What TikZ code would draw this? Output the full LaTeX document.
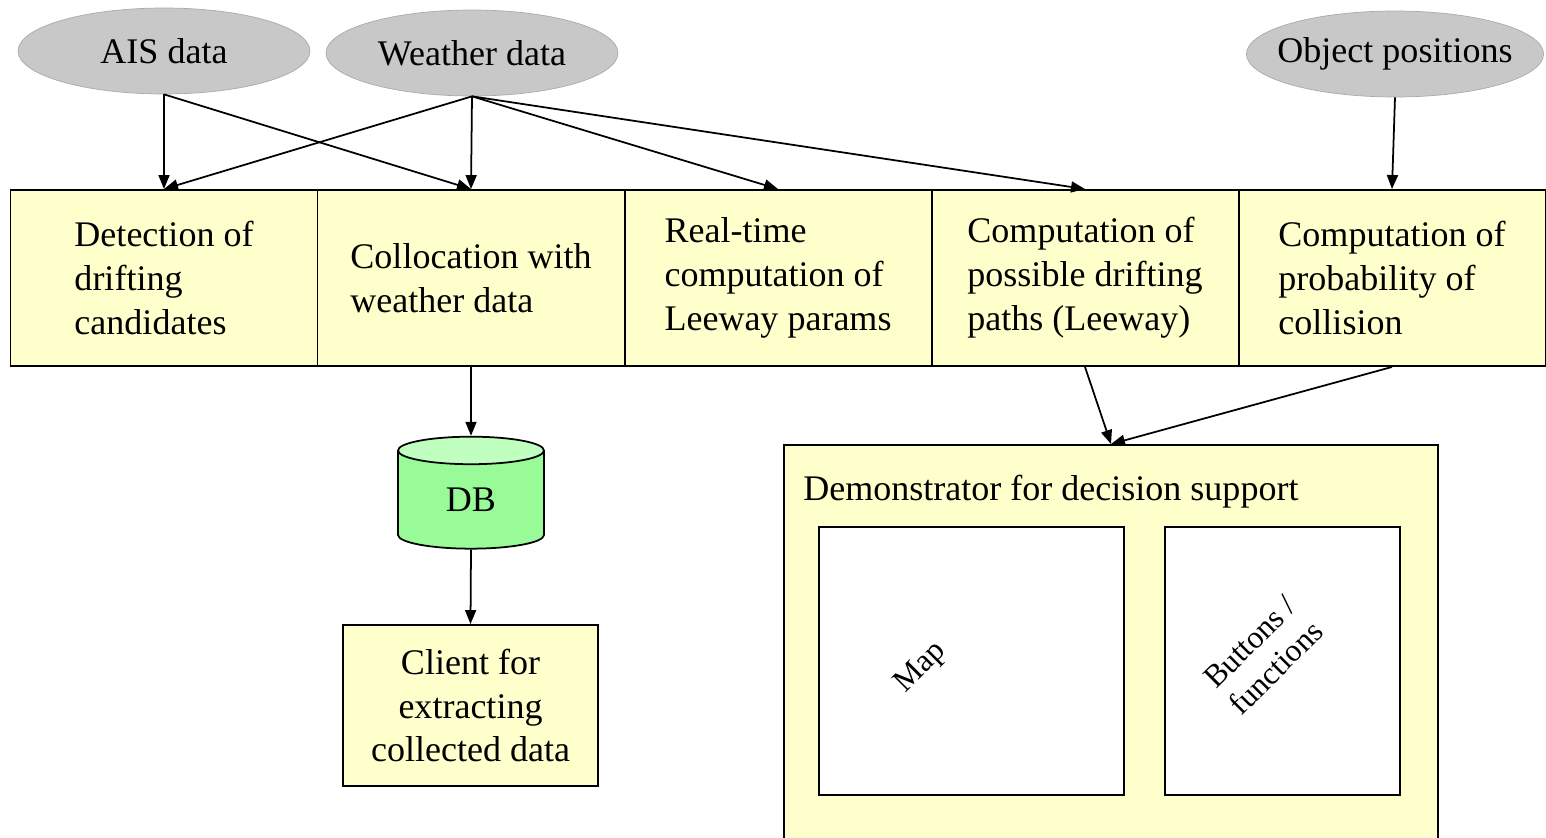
\documentclass[tikz,border=0pt]{standalone}
\usepackage{fontspec}
\setmainfont{Liberation Serif}
\usepackage{tikz}
\usetikzlibrary{shapes.geometric, arrows.meta, positioning, calc}
\definecolor{srcgray}{RGB}{200, 200, 200}
\definecolor{boxyellow}{RGB}{255, 255, 204}
\definecolor{dbgreen}{RGB}{152, 251, 152}
\definecolor{dbtop}{RGB}{192, 255, 192}

\begin{document}
\begin{tikzpicture}[x=0.02cm, y=-0.02cm,
    font=\fontsize{20.5}{25}\selectfont,
    srcdata/.style={ellipse, fill=srcgray, draw=srcgray!85!black, line width=0.4pt, minimum width=5.84cm, minimum height=1.72cm, inner sep=0pt},
    stepbox/.style={draw, line width=1.1pt, fill=boxyellow, minimum width=6.14cm, minimum height=3.52cm, align=left, inner sep=0pt},
    panel/.style={draw, line width=1.1pt, fill=white, minimum height=5.36cm, inner sep=0pt},
    flow/.style={-{Triangle[length=0.28cm, width=0.22cm]}, line width=1pt}]
  \useasboundingbox (0, 0) rectangle (1546, 838);

  % Data sources
  \node[srcdata] (ais) at (164, 51) {AIS data};
  \node[srcdata] (weather) at (472, 53) {Weather data};
  \node[srcdata, inner xsep=-0.25cm] (objpos) at (1395, 54) {Object positions};

  % Processing steps
  \node[stepbox] (detect) at (164, 278) {Detection of\\drifting\\candidates};
  \node[stepbox] (colloc) at (471, 278) {Collocation with\\weather data};
  \node[stepbox] (leeparams) at (778, 278) {Real-time\\computation of\\Leeway params};
  \node[stepbox] (paths) at (1085, 278) {Computation of\\possible drifting\\paths (Leeway)};
  \node[stepbox] (prob) at (1392, 278) {Computation of\\probability of\\collision};

  % Storage and client
  \node[cylinder, shape border rotate=90, aspect=0.55, draw, line width=1pt, cylinder uses custom fill, cylinder body fill=dbgreen, cylinder end fill=dbtop, minimum width=2.92cm, minimum height=2.24cm, inner sep=0pt] (db) at (471, 500) {DB};
  \node[draw, line width=1.1pt, fill=boxyellow, minimum width=5.1cm, minimum height=3.22cm, align=center, inner sep=0pt] (client) at (470.5, 705.5) {Client for\\extracting\\collected data};

  % Demonstrator
  \node[draw, line width=1.1pt, fill=boxyellow, minimum width=13.08cm, minimum height=8.7cm, inner sep=0pt] (demo) at (1111, 662.5) {};
  \node[anchor=west, inner sep=0pt] (demotitle) at (803, 492) {Demonstrator for decision support};
  \node[panel, minimum width=6.1cm] (mappanel) at (971.5, 661) {};
  \node[panel, minimum width=4.7cm] (btnpanel) at (1282.5, 661) {};
  \node[rotate=45, font=\fontsize{18}{20}\selectfont] (maplabel) at (921, 668) {Map};
  \node[rotate=45, align=center, font=\fontsize{18}{21}\selectfont] (btnlabel) at (1263, 655) {Buttons /\\functions};

  % Connectors
  \draw[flow] (ais.south) -- (detect.north);
  \draw[flow] (ais.south) -- (colloc.north);
  \foreach \dst in {detect, colloc, leeparams, paths}
    \draw[flow] (weather.south) -- (\dst.north);
  \draw[flow] (objpos.south) -- (prob.north);
  \draw[flow] (colloc.south) -- (db.north);
  \draw[flow] (db.south) -- (client.north);
  \draw[flow] (paths.south) -- (demo.north);
  \draw[flow] (prob.south) -- (demo.north);
\end{tikzpicture}
\end{document}
